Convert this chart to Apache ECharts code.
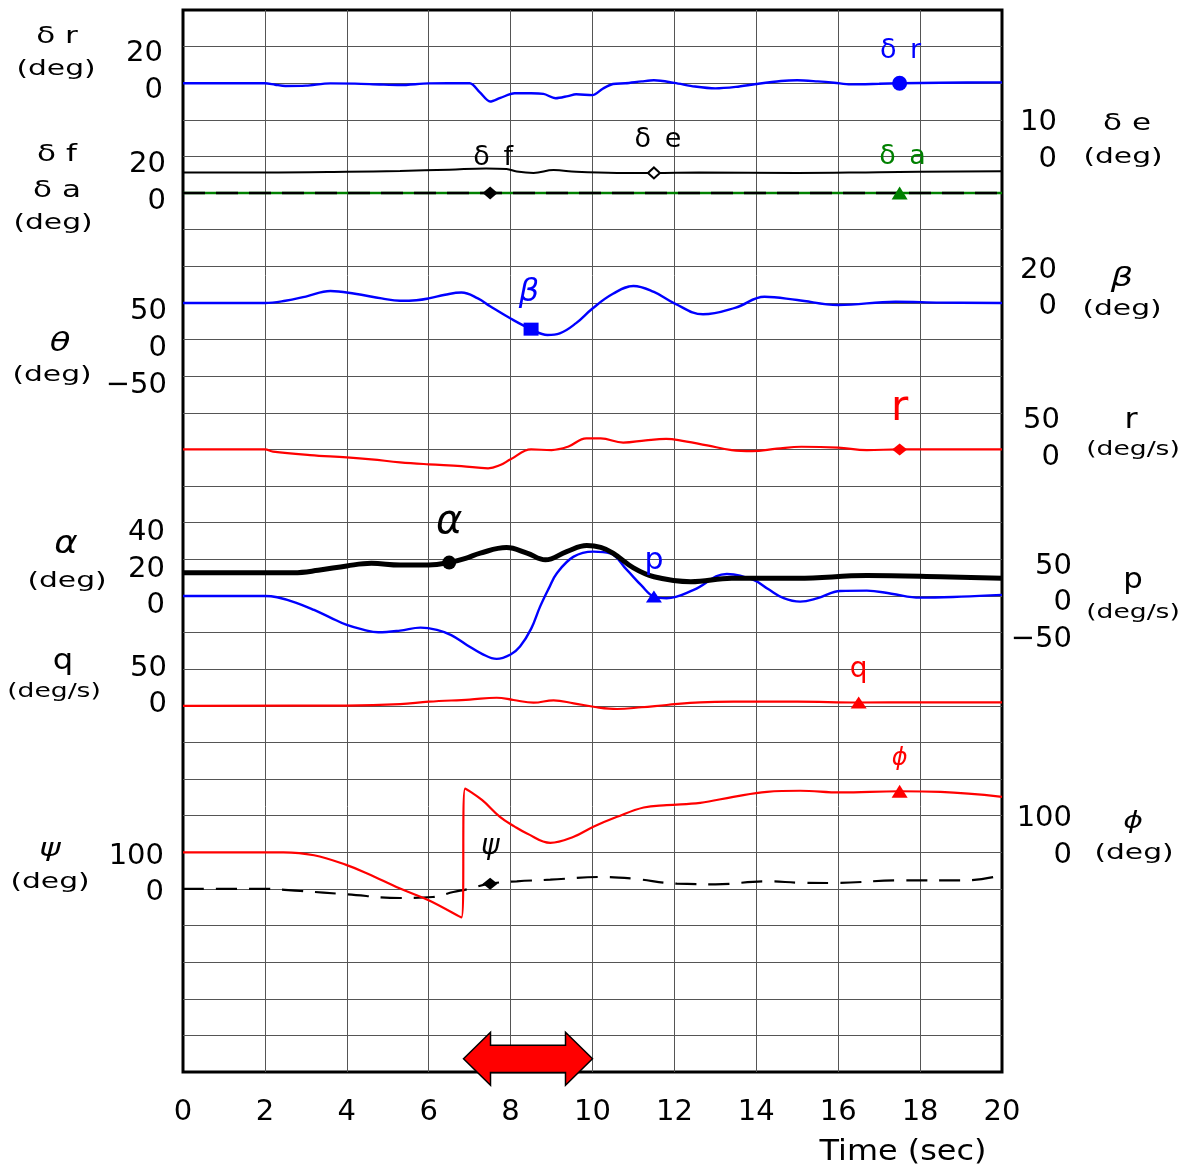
<!DOCTYPE html>
<html>
<head>
<meta charset="utf-8">
<script src="https://cdn.jsdelivr.net/npm/echarts@6/dist/echarts.min.js"></script>
<style>
  html, body { margin: 0; padding: 0; background: #fff; }
  #chart { width: 1184px; height: 1167px; }
</style>
</head>
<body>
<div id="chart"></div>
<script>
// ---- time histories (t in sec, value in the trace's own unit) ----
const timeTicks = [0, 2, 4, 6, 8, 10, 12, 14, 16, 18, 20];

// rudder deflection δr (deg)
const deltaR = [[0,0],[2,0],[2.25,-0.8],[2.5,-1.5],[3,-1.3],[3.6,-0.1],[4.2,-0.2],[4.8,-0.7],[5.3,-1.0],[6,-0.1],[7,0],[7.25,-5],[7.5,-10],[7.75,-8],[8.1,-5.5],[8.5,-5.5],[8.8,-5.8],[9.1,-8.2],[9.4,-7],[9.6,-6],[10,-6.5],[10.25,-3],[10.5,-0.4],[10.8,0],[11.2,1.0],[11.5,1.6],[12,0.2],[12.5,-1.8],[13,-2.8],[13.5,-2],[14,-0.4],[14.6,1.2],[15,1.6],[15.5,1.0],[15.9,0.3],[16.3,-0.6],[17,-0.3],[17.5,0],[18.5,0.3],[20,0.5]];
// flap δf and aileron δa (deg)
const deltaF = [[0,0],[7.5,0],[20,0]];
const deltaA = [[0,0],[17.5,0],[20,0]];
// elevator δe (deg)
const deltaE = [[0,-4.4],[2,-4.4],[4,-4.2],[5.3,-3.95],[6.5,-3.6],[7.4,-3.25],[7.9,-3.4],[8.15,-4.1],[8.56,-4.5],[9.05,-3.7],[9.6,-4.2],[10.6,-4.5],[11.5,-4.5],[12.6,-4.4],[15,-4.5],[17,-4.3],[20,-4.0]];
// sideslip β (deg)
const beta = [[0,0],[2,0],[2.5,1.2],[3,3.5],[3.6,6.5],[4.2,5],[4.85,2.5],[5.3,1.2],[5.7,1.5],[6,2.5],[6.4,4.5],[6.8,5.7],[7.2,2.5],[7.5,-1.8],[8,-8.5],[8.5,-14.3],[8.9,-17.5],[9.2,-16.6],[9.6,-11],[10,-3],[10.5,5],[11,9.3],[11.5,6],[12,-0.2],[12.7,-6.2],[13.5,-2.5],[14.2,3.4],[15,1.6],[16,-1.1],[17.4,0.7],[18.5,0.2],[20,0]];
// yaw rate r (deg/s)
const yawRate = [[0,0],[2,0],[2.2,-3],[3.1,-7.7],[4,-10.8],[4.6,-13.5],[5.3,-17.6],[6,-20.3],[6.8,-22.7],[7.45,-25.8],[7.75,-21.3],[8,-13.5],[8.5,0],[9,-0.8],[9.4,3.7],[9.85,15.1],[10.2,15.1],[10.75,9.4],[11.3,12.5],[11.8,14.3],[12.1,12.8],[12.8,5.5],[13.4,-0.8],[13.9,-2.2],[14.5,1],[15.1,3.7],[16,2.5],[16.7,-0.8],[17.5,0],[20,0]];
// angle of attack α (deg)
const alpha = [[0,12.7],[2.7,12.7],[3.3,14],[4,16.4],[4.6,17.8],[5.3,16.9],[6,16.9],[6.5,18.2],[6.9,20.5],[7.26,23.4],[7.9,26.4],[8.4,23.4],[8.85,19.7],[9.37,24.2],[9.86,27.5],[10.2,26.5],[10.5,23.4],[11,15.3],[11.5,10.5],[12.4,7.8],[13.4,9.7],[15,9.7],[16.7,11.1],[18.5,10.5],[20,9.7]];
// roll rate p (deg/s)
const rollRate = [[0,0],[2,0],[2.3,-1.8],[2.75,-9],[3.2,-19.1],[3.6,-29.5],[4,-39.6],[4.4,-46],[4.77,-49.6],[5.3,-47.4],[5.8,-43.3],[6.2,-46.4],[6.55,-53.5],[6.93,-66.9],[7.3,-79],[7.66,-86],[8,-80],[8.23,-69.2],[8.5,-45],[8.72,-14.6],[8.93,10],[9.13,31],[9.54,53.7],[10.02,60.5],[10.43,58.3],[10.84,35.5],[11.2,14],[11.5,-0.9],[11.81,-3.1],[12.47,8.2],[13.28,30],[13.93,21.8],[14.3,9],[14.67,-3.1],[15.07,-7.8],[15.5,-3],[16.05,6.8],[16.7,7.3],[17.3,3],[18,-2.3],[19,-1],[20,1.4]];
// pitch rate q (deg/s)
const pitchRate = [[0,0],[4,0.3],[5.3,2.2],[6,5.6],[7,8.5],[7.66,11],[8.07,7.9],[8.56,4.2],[9.05,7.5],[9.54,3.4],[10.1,-2],[10.6,-4.4],[11.2,-2],[11.81,1.1],[12.63,4.8],[13.44,5.6],[15,5.6],[16.5,4.5],[18,4.8],[20,4.8]];
// bank angle φ (deg), wraps at ±180
const phi = [[0,0],[2.45,0],[3.2,-8],[4,-35],[4.5,-58],[5.3,-99],[6,-131],[6.8,-178],[6.89,174],[7.3,143],[7.74,96.8],[8.1,70],[8.4,51.3],[8.97,25.9],[9.54,42.3],[10.02,69.6],[10.6,96.8],[11.25,122.3],[11.81,128.8],[12.63,135.1],[13.44,151.5],[14.26,165.2],[15.07,168],[16.05,163.3],[17.5,166.6],[18.5,165],[20,151.5]];
// heading ψ (deg)
const psi = [[0,0],[2,0],[2.86,-5.7],[4,-14.7],[5.3,-24.8],[6.1,-22.1],[6.6,-8.5],[6.93,-1.1],[7.5,14.2],[8.15,20.7],[8.97,25.1],[10.19,32.5],[11,27.8],[12.06,14.2],[13,12.6],[14.26,20.7],[15.07,16.9],[15.9,16.1],[17.5,23.5],[19.15,23.5],[20,37.1]];
// time span marked by the double arrow (sec)
const arrowSpan = [6.85, 10.0];

// tick labels of each scale
const ticksDeltaR = [20, 0];
const ticksDeltaFA = [20, 0];
const ticksDeltaE = [10, 0];
const ticksBeta = [20, 0];
const ticksTheta = [50, 0, -50];
const ticksR = [50, 0];
const ticksAlpha = [40, 20, 0];
const ticksP = [50, 0, -50];
const ticksQ = [50, 0];
const ticksPsi = [100, 0];
const ticksPhi = [100, 0];

// ---- styling ----
const BLUE = '#0000ff', RED = '#ff0000', GREEN = '#008000', BLACK = '#000000';
const SANS = "'DejaVu Sans', 'Noto Sans', sans-serif";
const ROWS = 29;          // horizontal grid rows
const GRID_COLOR = '#555';
const EN = '\u2002';      // en space between δ and its suffix

function fmtTick(v) { return v < 0 ? '\u2212' + Math.abs(v) : String(v); }

// one value axis per trace: zero sits on grid row `zeroRow`, `perRow` units per row;
// `shift` nudges the tick text down (+) or up (-) in pixels
function bandAxis(zeroRow, perRow, side, ticks, margin, shift) {
  const nudge = shift === 0
    ? { verticalAlign: 'middle' }
    : { verticalAlign: shift > 0 ? 'top' : 'bottom', lineHeight: Math.abs(shift) * 2 };
  return {
    type: 'value', position: side,
    min: -(ROWS - zeroRow) * perRow, max: zeroRow * perRow,
    axisLine: { show: false }, axisTick: { show: false }, splitLine: { show: false },
    axisLabel: Object.assign({
      customValues: ticks, margin, align: 'right',
      fontSize: 29, fontFamily: SANS, color: BLACK,
      formatter: fmtTick
    }, nudge)
  };
}

const yAxes = [
  { // 0: grid rows
    type: 'value', min: 0, max: ROWS, interval: 1, inverse: true,
    axisLine: { show: false }, axisTick: { show: false }, axisLabel: { show: false },
    splitLine: { show: true, showMinLine: false, showMaxLine: false, lineStyle: { color: GRID_COLOR, width: 1 } }
  },
  bandAxis(2, 20, 'left', ticksDeltaR, 20, 7),     // 1 δr
  bandAxis(5, 20, 'left', ticksDeltaFA, 17, 8),    // 2 δf, δa
  bandAxis(4, 10, 'right', ticksDeltaE, 55, 3),    // 3 δe
  bandAxis(8, 20, 'right', ticksBeta, 55, 4),      // 4 β
  bandAxis(9, 50, 'left', ticksTheta, 16, 9),      // 5 θ
  bandAxis(12, 50, 'right', ticksR, 58, 8),        // 6 r
  bandAxis(16, 20, 'left', ticksAlpha, 18, 10),    // 7 α
  bandAxis(16, 50, 'right', ticksP, 70, 7),        // 8 p
  bandAxis(19, 50, 'left', ticksQ, 16, -1),        // 9 q
  bandAxis(24, 100, 'left', ticksPsi, 19, 4),      // 10 ψ
  bandAxis(23, 100, 'right', ticksPhi, 70, 3)      // 11 φ
];

function line(name, data, yAxisIndex, color, width, extra) {
  return Object.assign({
    name, type: 'line', data, xAxisIndex: 0, yAxisIndex,
    symbol: 'none', smooth: 0.4, lineStyle: { color, width },
    z: 3, silent: true, animation: false
  }, extra || {});
}

function valueAt(arr, t) {
  const d = arr.find(p => p[0] === t);
  return d ? d[1] : null;
}

function marker(data, t, yAxisIndex, symbol, size, color, text, font, offset, hollow) {
  return {
    type: 'scatter', xAxisIndex: 0, yAxisIndex,
    data: [[t, valueAt(data, t)]],
    symbol, symbolSize: size,
    itemStyle: hollow
      ? { color: '#fff', borderColor: color, borderWidth: 2, opacity: 1 }
      : { color, opacity: 1 },
    label: Object.assign({ show: true, position: 'inside', offset, formatter: text, color, opacity: 1 }, font),
    emphasis: { disabled: true },
    z: 5, silent: true, animation: false
  };
}

const deltaLabel = { fontFamily: SANS, fontSize: 27 };
const letterLabel = (size) => ({ fontFamily: SANS, fontSize: size });
const greekLabel = (size) => ({ fontFamily: SANS, fontStyle: 'italic', fontSize: size });

const series = [
  line('δa', deltaA, 2, GREEN, 2.5, { smooth: false }),
  line('δf', deltaF, 2, BLACK, 2.5, { smooth: false, lineStyle: { color: BLACK, width: 2.5, type: [22, 11] } }),
  line('δr', deltaR, 1, BLUE, 2.4, { smooth: 0.3 }),
  line('δe', deltaE, 3, BLACK, 2),
  line('β', beta, 4, BLUE, 2.4),
  line('r', yawRate, 6, RED, 2.2),
  line('p', rollRate, 8, BLUE, 2.4),
  line('α', alpha, 7, BLACK, 5),
  line('q', pitchRate, 9, RED, 2.2),
  line('ψ', psi, 10, BLACK, 2.2, { lineStyle: { color: BLACK, width: 2.2, type: [21, 12] } }),
  line('φ', phi, 11, RED, 2.2),

  marker(deltaR, 17.5, 1, 'circle', 15, BLUE, 'δ' + EN + 'r', deltaLabel, [1, -32]),
  marker(deltaF, 7.5, 2, 'diamond', [15, 13], BLACK, 'δ' + EN + 'f', deltaLabel, [3, -35]),
  marker(deltaE, 11.5, 3, 'diamond', [12, 11], BLACK, 'δ' + EN + 'e', deltaLabel, [4, -33], true),
  marker(deltaA, 17.5, 2, 'triangle', [16, 13], GREEN, 'δ' + EN + 'a', deltaLabel, [3, -36]),
  marker(beta, 8.5, 4, 'rect', [15, 13], BLUE, 'β', greekLabel(32), [-2, -36]),
  marker(yawRate, 17.5, 6, 'diamond', [15, 12], RED, 'r', letterLabel(42), [0, -40]),
  marker(alpha, 6.5, 7, 'circle', 14, BLACK, 'α', greekLabel(40), [0, -40]),
  marker(rollRate, 11.5, 8, 'triangle', [16, 12], BLUE, 'p', letterLabel(30), [0, -35]),
  marker(pitchRate, 16.5, 9, 'triangle', [16, 12], RED, 'q', letterLabel(28), [0, -33]),
  marker(phi, 17.5, 11, 'triangle', [16, 13], RED, '\u03d5', greekLabel(24), [0, -33]),
  marker(psi, 7.5, 10, 'diamond', [15, 12], BLACK, 'ψ', greekLabel(28), [0, -37]),

  { // double arrow over the time span
    type: 'custom', xAxisIndex: 0, yAxisIndex: 0, clip: false, z: 6, silent: true, animation: false,
    data: [[arrowSpan[0], arrowSpan[1], 28.64]],
    renderItem: (params, api) => {
      const L = api.coord([api.value(0), api.value(2)]);
      const R = api.coord([api.value(1), api.value(2)]);
      const y = L[1], hh = 26.5, sh = 13.6, hl = 27;
      const pts = [
        [L[0], y], [L[0] + hl, y - hh], [L[0] + hl, y - sh], [R[0] - hl, y - sh], [R[0] - hl, y - hh],
        [R[0], y], [R[0] - hl, y + hh], [R[0] - hl, y + sh], [L[0] + hl, y + sh], [L[0] + hl, y + hh]
      ];
      return { type: 'polygon', shape: { points: pts }, style: { fill: RED, stroke: BLACK, lineWidth: 1.5 } };
    }
  }
];

// axis titles; wide glyphs are stretched horizontally around their centre
function txt(text, x, y, size, scaleX, italic) {
  return {
    type: 'text', x, y, scaleX, silent: true,
    style: {
      text, fontSize: size, fontFamily: SANS, fontStyle: italic ? 'italic' : 'normal',
      fill: BLACK, align: 'center', verticalAlign: 'middle'
    }
  };
}

const titles = [
  txt('δ r', 57, 37, 23, 1.35), txt('(deg)', 56, 69, 22, 1.35),
  txt('δ f', 57, 155, 23, 1.35), txt('δ a', 57, 191, 23, 1.35), txt('(deg)', 53, 223, 22, 1.35),
  txt('θ', 60, 344, 27, 1.25, true), txt('(deg)', 52, 375, 22, 1.35),
  txt('α', 66, 545, 31, 1.15, true), txt('(deg)', 67, 581, 22, 1.35),
  txt('q', 63, 662, 28, 1.15), txt('(deg/s)', 54, 692, 19, 1.4),
  txt('ψ', 50, 850, 24, 1.35, true), txt('(deg)', 50, 882, 22, 1.35),
  txt('δ e', 1127, 124, 23, 1.35), txt('(deg)', 1123, 157, 22, 1.35),
  txt('β', 1122, 279, 26, 1.35, true), txt('(deg)', 1122, 309, 22, 1.35),
  txt('r', 1131, 420, 29, 1.1), txt('(deg/s)', 1133, 450, 19, 1.4),
  txt('p', 1133, 581, 28, 1.1), txt('(deg/s)', 1133, 613, 19, 1.4),
  txt('\u03d5', 1133, 822, 23, 1.3, true), txt('(deg)', 1134, 853, 22, 1.35),
  txt('Time (sec)', 903, 1152, 29, 1.1)
];

const chart = echarts.init(document.getElementById('chart'), null, { renderer: 'canvas' });
chart.setOption({
  animation: false,
  backgroundColor: '#fff',
  grid: {
    left: 183, right: 182, top: 10, bottom: 95,
    containLabel: false, outerBoundsMode: 'none',
    show: true, borderColor: BLACK, borderWidth: 3, backgroundColor: 'transparent'
  },
  xAxis: {
    type: 'value', min: timeTicks[0], max: timeTicks[timeTicks.length - 1], interval: timeTicks[1] - timeTicks[0],
    axisLine: { show: false }, axisTick: { show: false },
    splitLine: { show: true, showMinLine: false, showMaxLine: false, lineStyle: { color: GRID_COLOR, width: 1 } },
    axisLabel: { fontSize: 29, fontFamily: SANS, color: BLACK, margin: 26 }
  },
  yAxis: yAxes,
  series,
  graphic: titles
});
</script>
</body>
</html>
